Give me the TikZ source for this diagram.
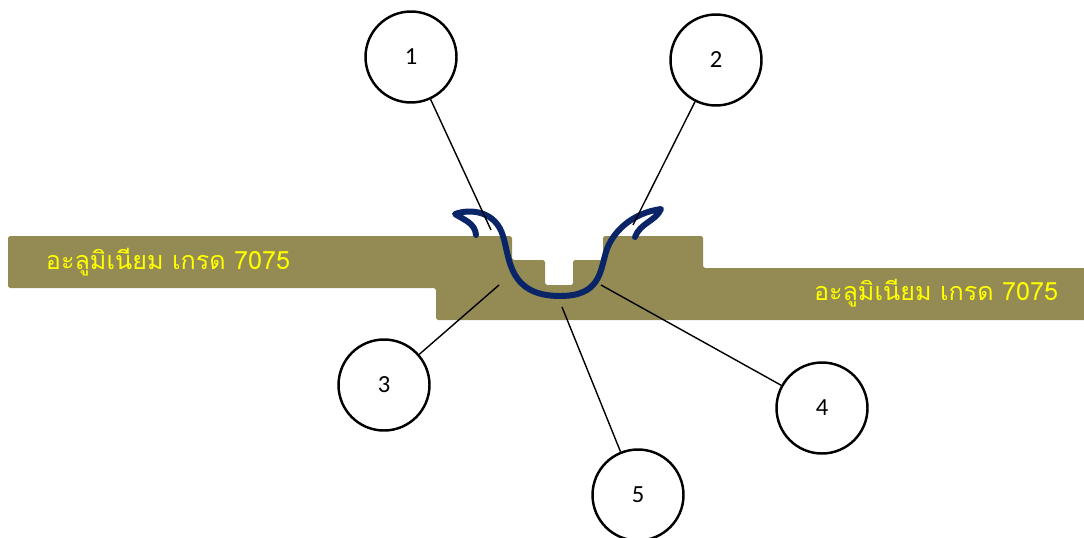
\documentclass[tikz,border=0pt]{standalone}
\usepackage{fontspec}
\setmainfont{Carlito}
\newfontfamily\thaifont[Script=Thai]{Loma}
\definecolor{platecol}{HTML}{948A54}
\definecolor{clipblue}{HTML}{0A2468}
\definecolor{gradeyellow}{HTML}{FFFF00}

\begin{document}
\begin{tikzpicture}[x=0.02cm,y=-0.02cm,
  num/.style={circle,draw,line width=1.4pt,minimum size=1.82cm,inner sep=0pt,
    font=\fontsize{14}{16}\selectfont},
  lead/.style={line width=0.8pt},
  grade/.style={text=gradeyellow,font=\thaifont\fontsize{14.3}{16}\selectfont}]
  \useasboundingbox (0,0) rectangle (1084,537);
  % the two plates with the groove
  \fill[platecol,rounded corners=1pt] (8,236) -- (512,236) -- (512,260) -- (545,260)
    -- (545,285) -- (573,285) -- (573,260) -- (603,260) -- (603,236) -- (703,236)
    -- (703,268) -- (1090,268) -- (1090,320) -- (436,320) -- (436,288) -- (8,288) -- cycle;
  \node[grade] (gl) at (168,262) {อะลูมิเนียม เกรด 7075};
  \node[grade] (gr) at (936,293) {อะลูมิเนียม เกรด 7075};
  % clip
  \draw[clipblue,line width=3.4pt,line cap=round,line join=round]
    (476,235) .. controls (475,223) and (464,220) .. (455,214)
    .. controls (472,208) and (496,212) .. (503,236)
    .. controls (510,258) and (508,296) .. (560,296)
    .. controls (600,296) and (600,272) .. (606,252)
    .. controls (612,232) and (632,213) .. (661,209)
    .. controls (656,221) and (640,223) .. (635,237);
  \node[num] (c1) at (411,57) {1};
  \node[num] (c2) at (716,60) {2};
  \node[num] (c3) at (384,385) {3};
  \node[num] (c4) at (822,408) {4};
  \node[num] (c5) at (638,495) {5};
  \coordinate (p1) at (491,230);
  \coordinate (p2) at (633,225);
  \coordinate (p3) at (499,285);
  \coordinate (p4) at (601,285);
  \coordinate (p5) at (562,307);
  \draw[lead] (c1) -- (p1);
  \draw[lead] (c2) -- (p2);
  \draw[lead] (c3) -- (p3);
  \draw[lead] (c4) -- (p4);
  \draw[lead] (c5) -- (p5);
\end{tikzpicture}
\end{document}
